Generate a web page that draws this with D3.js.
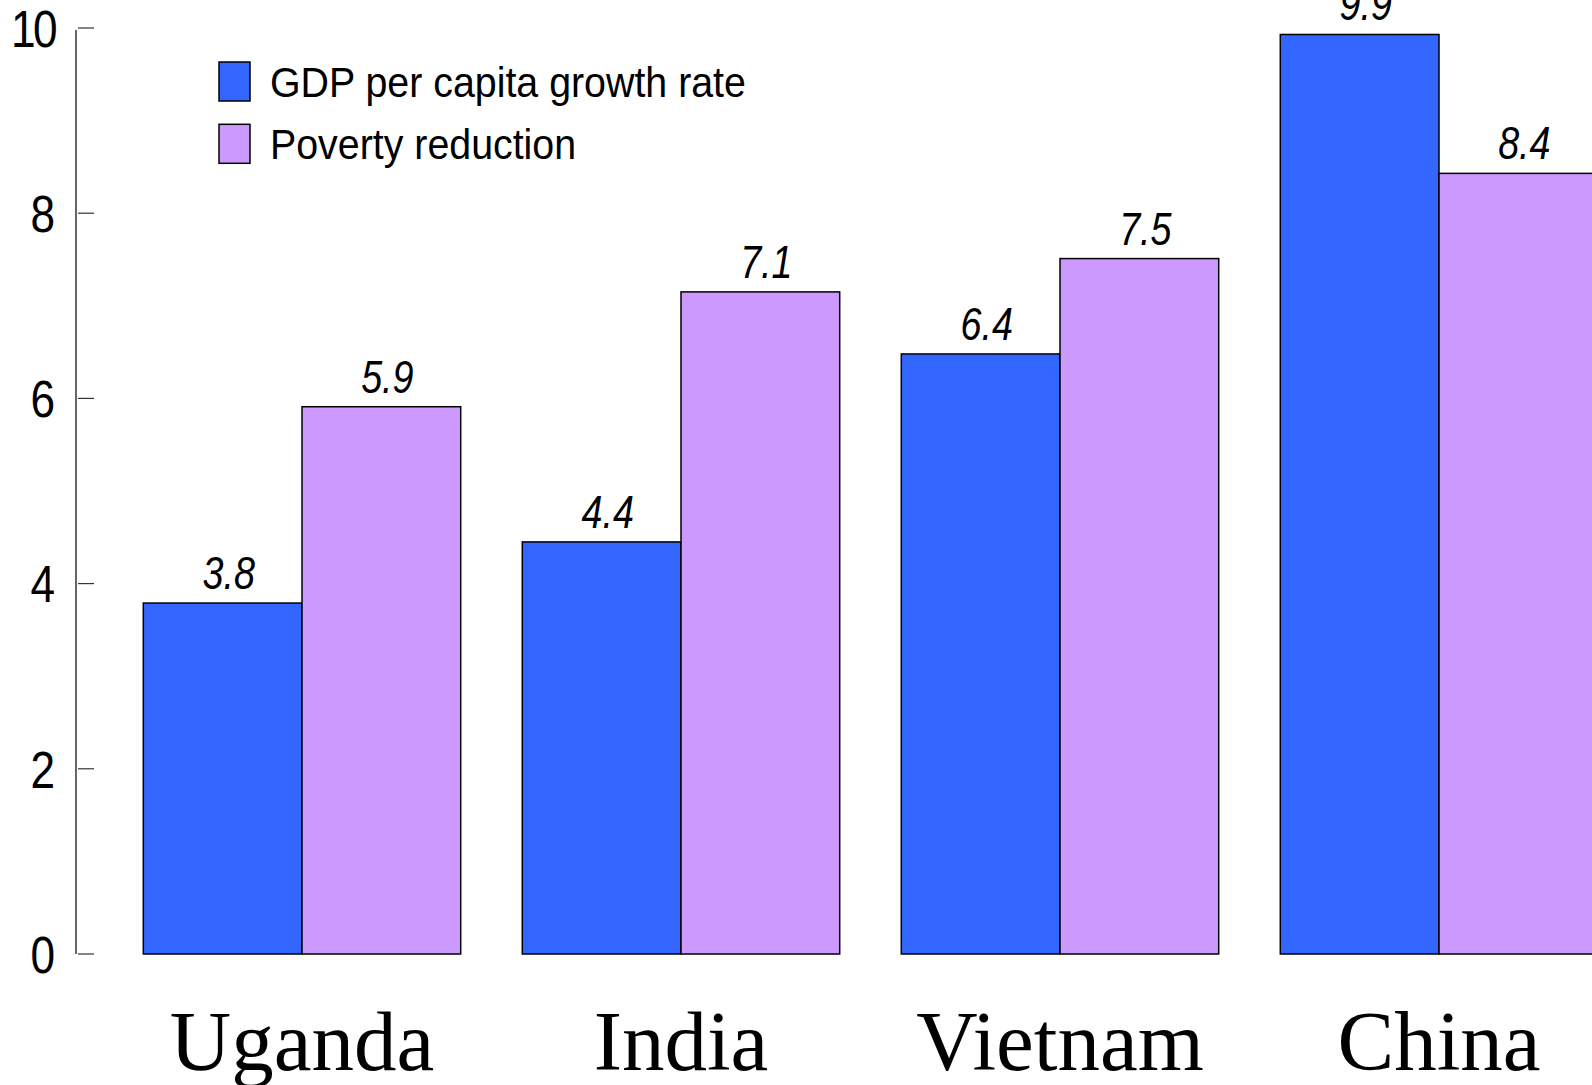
<!DOCTYPE html>
<html><head><meta charset="utf-8">
<script src="https://cdn.jsdelivr.net/npm/d3@7"></script>
<style>
html,body{margin:0;padding:0;background:#fff;overflow:hidden}
svg{display:block}
.narrow{font-family:"Liberation Sans Narrow","Liberation Sans",Arial,sans-serif}
</style></head>
<body>
<svg id="chart" width="1592" height="1085"></svg>
<script>
const categories = ["Uganda", "India", "Vietnam", "China"];
const seriesNames = ["GDP per capita growth rate", "Poverty reduction"];
const gdpGrowth = [3.79, 4.45, 6.48, 9.93];
const povertyReduction = [5.91, 7.15, 7.51, 8.43];
const gdpLabels = ["3.8", "4.4", "6.4", "9.9"];
const povertyLabels = ["5.9", "7.1", "7.5", "8.4"];
const yTicks = [0, 2, 4, 6, 8, 10];
const colors = ["#3366FF", "#CC99FF"];

const svg = d3.select("#chart");
const NX = 0.85; // horizontal condensing to mimic a narrow face

const y = d3.scaleLinear().domain([0, 10]).range([954, 28]);
const x = d3.scaleBand().domain(categories).range([112.5, 1628.5]).paddingInner(0.1625).paddingOuter(0.08125);
const xs = d3.scaleBand().domain(seriesNames).range([0, x.bandwidth()]).padding(0);

// axis
const axisG = svg.append("g").attr("transform", "translate(76,0)");
axisG.append("line").attr("x1", 0).attr("x2", 0).attr("y1", y(10) + 2).attr("y2", y(0))
  .attr("stroke", "#000").attr("stroke-width", 1.2);
axisG.selectAll("line.tick").data(yTicks).join("line").attr("class", "tick")
  .attr("x1", 2).attr("x2", 18).attr("y1", d => y(d)).attr("y2", d => y(d))
  .attr("stroke", "#333").attr("stroke-width", 1.2);
axisG.selectAll("text.tl").data(yTicks).join("text").attr("class", "tl narrow")
  .attr("transform", d => `translate(-21,${y(d)}) scale(${NX},1)`)
  .attr("dy", "0.36em")
  .attr("text-anchor", "end").attr("font-size", 52).attr("fill", "#000")
  .style("letter-spacing", d => String(d).length > 1 ? "-3px" : "0px")
  .text(d => d);

const data = categories.map((c, i) => ({
  cat: c,
  vals: [
    {s: seriesNames[0], v: gdpGrowth[i], label: gdpLabels[i], color: colors[0]},
    {s: seriesNames[1], v: povertyReduction[i], label: povertyLabels[i], color: colors[1]}
  ]
}));

const groups = svg.selectAll("g.grp").data(data).join("g").attr("class", "grp")
  .attr("transform", d => `translate(${x(d.cat)},0)`);

groups.selectAll("rect").data(d => d.vals).join("rect")
  .attr("x", d => xs(d.s)).attr("width", xs.bandwidth())
  .attr("y", d => y(d.v)).attr("height", d => y(0) - y(d.v))
  .attr("fill", d => d.color).attr("stroke", "#000").attr("stroke-width", 1.5);

groups.selectAll("text.val").data(d => d.vals).join("text").attr("class", "val narrow")
  .attr("transform", d => `translate(${xs(d.s) + xs.bandwidth() / 2 + 6},${y(d.v) - 14}) scale(0.82,1)`)
  .attr("text-anchor", "middle").attr("font-size", 46).attr("font-style", "italic")
  .attr("fill", "#000").text(d => d.label);

// category labels
svg.selectAll("text.cat").data(categories).join("text").attr("class", "cat")
  .attr("x", d => x(d) + x.bandwidth() / 2).attr("y", 1070)
  .attr("text-anchor", "middle").attr("font-family", "'Liberation Serif','Times New Roman',serif")
  .attr("font-size", 85).attr("fill", "#000").text(d => d);

// legend
const leg = svg.append("g");
const legItems = leg.selectAll("g").data(seriesNames).join("g")
  .attr("transform", (d, i) => `translate(219,${62 + i * 62.3})`);
legItems.append("rect").attr("width", 31).attr("height", 39)
  .attr("fill", (d, i) => colors[i]).attr("stroke", "#000").attr("stroke-width", 1.5);
legItems.append("text").attr("class", "narrow")
  .attr("transform", `translate(51,34.7) scale(0.915,1)`)
  .attr("font-size", 43).attr("fill", "#000").text(d => d);
</script>
</body></html>
